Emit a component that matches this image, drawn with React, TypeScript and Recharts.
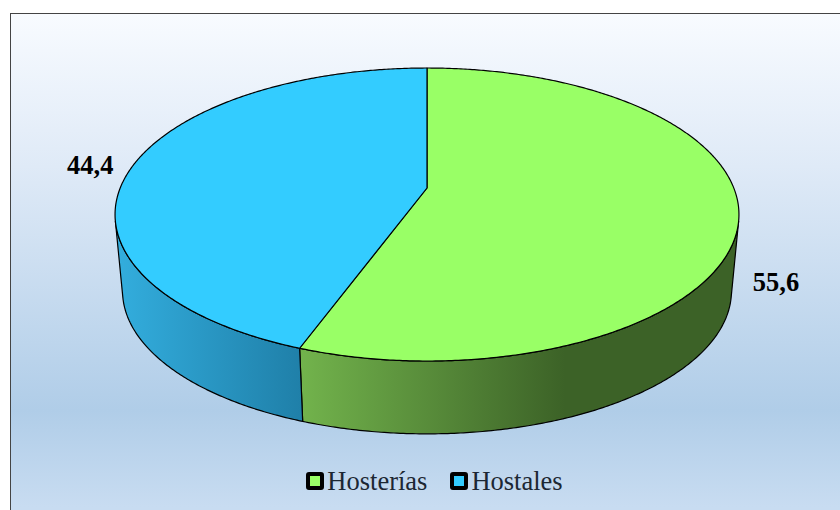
import React from "react";
import { PieChart, Pie, Legend } from "recharts";

const categories = ["Hosterías", "Hostales"];
const values = [55.6, 44.4];
const topColors = ["#99ff66", "#33ccff"];
const sideStops = [
  [
    ["0%", "#72b34c"],
    ["100%", "#3c6227"],
  ],
  [
    ["0%", "#33aede"],
    ["100%", "#1f7fa8"],
  ],
];
const sideRanges = [
  [301, 565],
  [115, 304],
];
const labelNudges = [
  [37, 68],
  [-44, 1],
];

const chartData = categories.map((name, i) => ({ name, value: values[i], fill: topColors[i] }));

const PERSPECTIVE = 0.181;
const X_STRETCH = 306.8 / 141.7;
const SHRINK = 0.976;
const DEPTH = 77;
const VISIBLE_FROM = -13;
const VISIBLE_TO = -167;

const project = (cx: number, cy: number, r: number, deg: number) => {
  const a = (deg * Math.PI) / 180;
  const u = Math.cos(a);
  const v = -Math.sin(a);
  const w = 1 - PERSPECTIVE * v;
  return [cx + (X_STRETCH * r * u) / w, cy + (r * v) / w];
};

const lower = (cx: number, cy: number, p: number[]) => [
  cx + SHRINK * (p[0] - cx),
  cy + SHRINK * (p[1] - cy) + DEPTH,
];

const sweep = (from: number, to: number) => {
  const n = Math.max(2, Math.ceil(Math.abs(to - from) * 2));
  return Array.from({ length: n + 1 }, (_, i) => from + ((to - from) * i) / n);
};

const toPath = (pts: number[][]) =>
  pts.map((p, i) => `${i ? "L" : "M"}${p[0].toFixed(2)} ${p[1].toFixed(2)}`).join(" ");

const Slice = (props: any) => {
  const { cx, cy, outerRadius, startAngle, endAngle, fill, index } = props;
  const hi = Math.min(Math.max(startAngle, endAngle), VISIBLE_FROM);
  const lo = Math.max(Math.min(startAngle, endAngle), VISIBLE_TO);
  const rim = sweep(startAngle, endAngle).map((d) => project(cx, cy, outerRadius, d));
  const topPath = `M${cx} ${cy} ` + toPath(rim).replace(/^M/, "L") + " Z";
  let side: string | null = null;
  if (hi > lo) {
    const upper = sweep(hi, lo).map((d) => project(cx, cy, outerRadius, d));
    const under = upper.map((p) => lower(cx, cy, p)).reverse();
    side = toPath([...upper, ...under]) + " Z";
  }
  const [x1, x2] = sideRanges[index];
  return (
    <g>
      <defs>
        <linearGradient id={`side-${index}`} gradientUnits="userSpaceOnUse" x1={x1} x2={x2} y1={0} y2={0}>
          {sideStops[index].map(([o, c]) => (
            <stop key={o} offset={o} stopColor={c} />
          ))}
        </linearGradient>
      </defs>
      {side && <path d={side} fill={`url(#side-${index})`} stroke="#000" strokeWidth={1.2} strokeLinejoin="round" />}
      <path d={topPath} fill={fill} stroke="#000" strokeWidth={1.2} strokeLinejoin="round" />
    </g>
  );
};

const ValueLabel = (props: any) => {
  const { cx, cy, outerRadius, midAngle, index, value } = props;
  const p = project(cx, cy, outerRadius, midAngle);
  return (
    <text
      x={p[0] + labelNudges[index][0]}
      y={p[1] + labelNudges[index][1]}
      textAnchor="middle"
      dominantBaseline="central"
      fontFamily="'Liberation Serif', serif"
      fontWeight="bold"
      fontSize={26.5}
      fill="#000"
    >
      {String(value).replace(".", ",")}
    </text>
  );
};

const LegendContent = () => (
  <div style={{ display: "flex", justifyContent: "center", alignItems: "center", fontFamily: "'Liberation Serif', serif", fontSize: 26.5, color: "#1c2733", lineHeight: "30px" }}>
    {categories.map((name, i) => (
      <span key={name} style={{ display: "inline-flex", alignItems: "center", marginRight: i === 0 ? 23 : 0 }}>
        <span style={{ width: 18, height: 18, boxSizing: "border-box", border: "4px solid #000", borderRadius: 3, background: topColors[i], marginRight: 3 }} />
        {name}
      </span>
    ))}
  </div>
);

export default function App() {
  return (
    <div
      style={{
        position: "absolute",
        left: 0,
        top: 0,
        width: 840,
        height: 510,
        background: "#fff",
        overflow: "hidden",
      }}
    >
      <div
        style={{
          position: "absolute",
          left: 10,
          top: 13,
          width: 840,
          height: 510,
          boxSizing: "border-box",
          border: "1px solid #444",
          background: "linear-gradient(180deg, #f8fbff 0%, #dfeaf7 30%, #b0cde8 78%, #c8dcf1 97%)",
        }}
      />
      <PieChart width={840} height={510} margin={{ top: 0, right: 0, bottom: 0, left: 0 }} style={{ position: "absolute", left: 0, top: 0 }}>
        <Pie
          data={chartData}
          dataKey="value"
          nameKey="name"
          cx={427}
          cy={188}
          innerRadius={0}
          outerRadius={141.7}
          startAngle={90}
          endAngle={-270}
          paddingAngle={0}
          isAnimationActive={false}
          shape={Slice}
          label={ValueLabel}
          labelLine={false}
        />
        <Legend
          content={LegendContent}
          wrapperStyle={{ position: "absolute", left: 0, top: 466, width: 869, height: 30 }}
        />
      </PieChart>
    </div>
  );
}
